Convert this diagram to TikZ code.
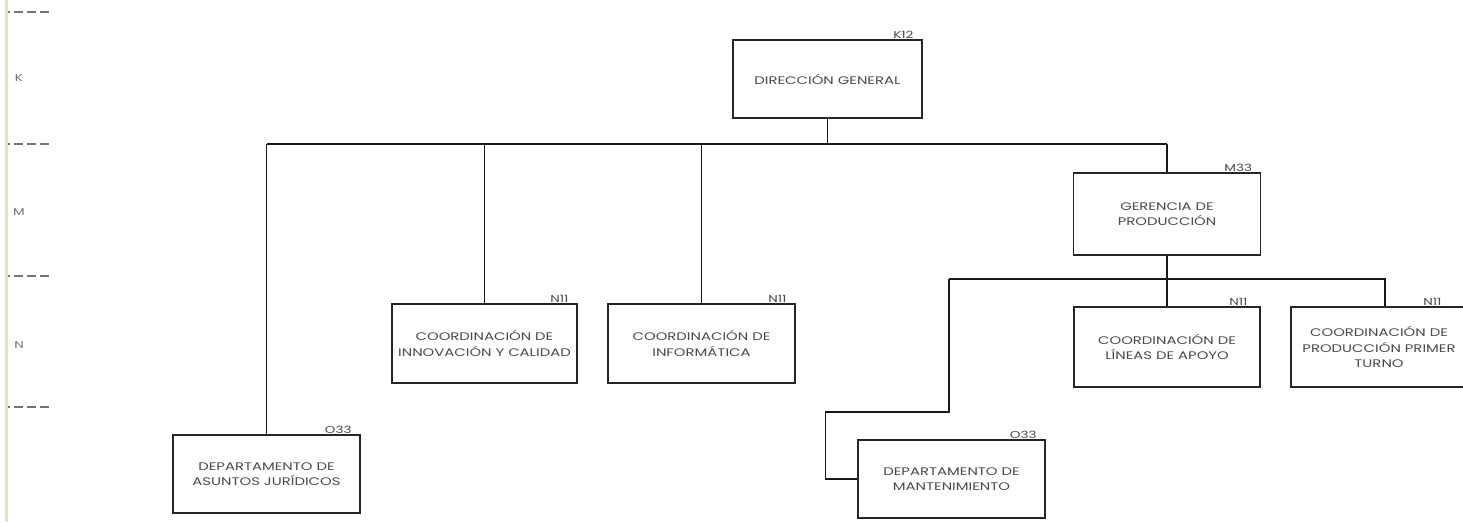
\documentclass[tikz,border=0pt]{standalone}
\usepackage{fontspec}
\setmainfont{Poppins}[FakeStretch=1.35]
\usetikzlibrary{positioning}
\definecolor{inkgray}{HTML}{4A4A4A}
\definecolor{stripbeige}{HTML}{E4E0CC}

\begin{document}
\begin{tikzpicture}[x=1pt,y=-1pt,
  box/.style={draw=black!85,line width=1.3pt,minimum width=187pt,minimum height=79pt,
    align=center,inner sep=2pt,text=inkgray,
    font=\fontsize{11}{15.5}\selectfont},
  code/.style={font=\fontsize{10}{10}\selectfont,text=inkgray,inner sep=1pt},
  link/.style={line width=1.4pt,draw=black!90},
  level/.style={line width=1.4pt,draw=black!55,dash pattern=on 9pt off 4pt,dash phase=7pt}]
\clip (0,0) rectangle (1463,522);
\fill[white] (0,0) rectangle (1463,522);
% margin of levels
\fill[stripbeige] (4.5,0) rectangle (7.5,522);
\foreach \yy in {12,144,276,407}
  \draw[level] (8,\yy) -- (50,\yy);
\node[code,text=black!55] (lvK) at (19,78) {K};
\node[code,text=black!55] (lvM) at (19,212) {M};
\node[code,text=black!55] (lvN) at (19,345) {N};

% boxes
\node[box,minimum width=189pt,minimum height=78pt,
  label={[code,anchor=south east,xshift=-8pt]north east:K12}] (dg) at (827.5,79) {DIRECCIÓN GENERAL};
\node[box,minimum height=82pt,
  label={[code,anchor=south east,xshift=-8pt]north east:M33}] (gp) at (1167,214) {GERENCIA DE\\PRODUCCIÓN};
\node[box,minimum height=78pt,
  label={[code,anchor=south east,xshift=-8pt]north east:O33}] (daj) at (266.5,474) {DEPARTAMENTO DE\\ASUNTOS JURÍDICOS};
\node[box,minimum width=185pt,
  label={[code,anchor=south east,xshift=-8pt]north east:N11}] (inn) at (484.5,343.5) {COORDINACIÓN DE\\INNOVACIÓN Y CALIDAD};
\node[box,
  label={[code,anchor=south east,xshift=-8pt]north east:N11}] (inf) at (701.5,343.5) {COORDINACIÓN DE\\INFORMÁTICA};
\node[box,minimum width=186pt,minimum height=80pt,
  label={[code,anchor=south east,xshift=-12pt]north east:N11}] (lin) at (1167,347) {COORDINACIÓN DE\\LÍNEAS DE APOYO};
\node[box,minimum width=176pt,minimum height=80pt,
  label={[code,anchor=south east,xshift=-25pt]north east:N11}] (prt) at (1379,347) {COORDINACIÓN DE\\PRODUCCIÓN PRIMER\\TURNO};
\node[box,minimum height=78pt,
  label={[code,anchor=south east,xshift=-8pt]north east:O33}] (mant) at (951.5,479) {DEPARTAMENTO DE\\MANTENIMIENTO};

% connectors
\coordinate (bar) at (0,144);
\coordinate (pbar) at (0,279);
\coordinate (mbend) at (949,412);
\coordinate (prtin) at ([xshift=6pt]prt.north);
\draw[link] (dg.south) -- (dg.south |- bar);
\draw[link] (daj.north |- bar) -- (gp.north |- bar);
\foreach \kid in {daj,inn,inf,gp}
  \draw[link] (\kid.north |- bar) -- (\kid.north);
\draw[link] (gp.south) -- (gp.south |- pbar);
\draw[link] (mbend |- pbar) -- (prtin |- pbar) -- (prtin);
\draw[link] (lin.north |- pbar) -- (lin.north);
\draw[link] (mbend |- pbar) -- (mbend) -| ([xshift=-32pt]mant.west) -- (mant.west);
\end{tikzpicture}
\end{document}
